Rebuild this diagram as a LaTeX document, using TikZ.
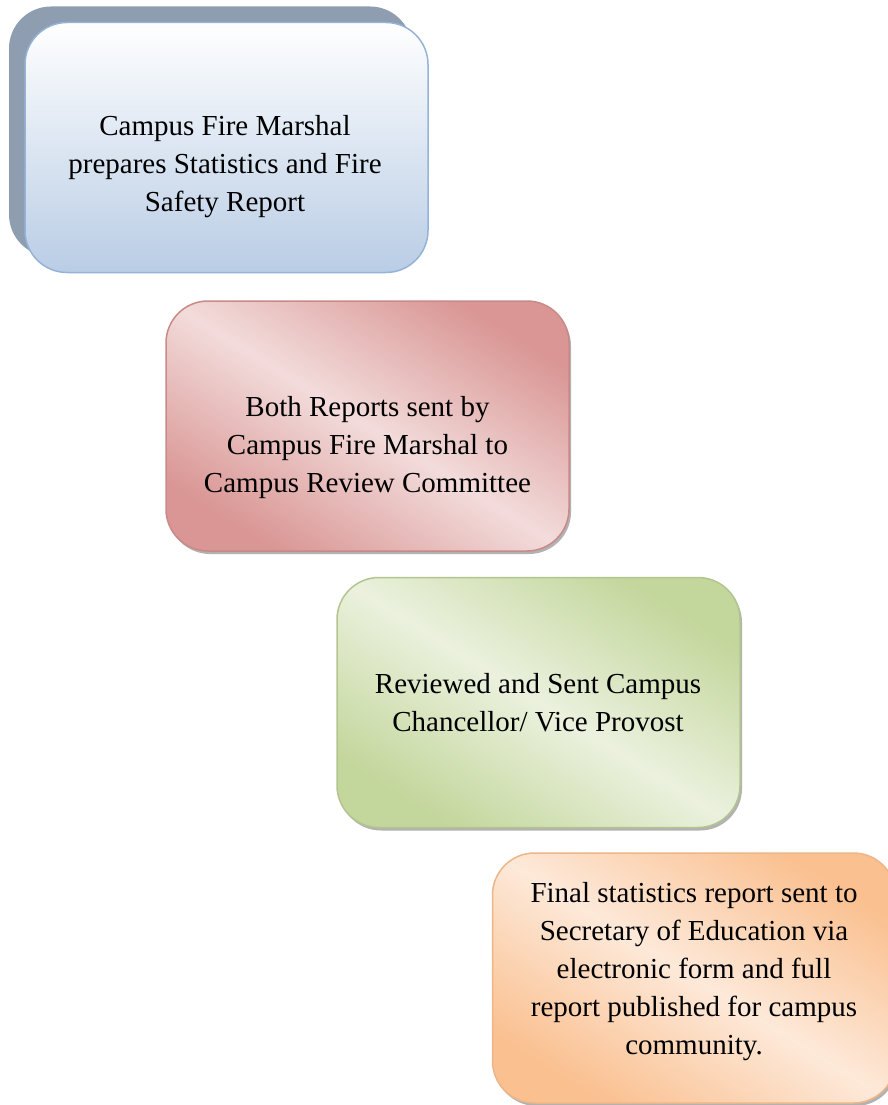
\documentclass[tikz,border=0pt]{standalone}
\usepackage{fontspec}
\setmainfont{Liberation Serif}
\usetikzlibrary{positioning,shadows}

\definecolor{blueedge}{HTML}{95B3D7}
\definecolor{bluelow}{HTML}{B9CDE5}
\definecolor{blueback}{HTML}{8E9DAF}
\definecolor{rededge}{HTML}{D99694}
\definecolor{redmid}{HTML}{F2DCDB}
\definecolor{greenedge}{HTML}{C3D69B}
\definecolor{greenmid}{HTML}{EBF1DE}
\definecolor{orangeedge}{HTML}{FAC090}
\definecolor{orangemid}{HTML}{FDE9D9}

\begin{document}
\begin{tikzpicture}[x=1pt,y=-1pt,
    stage/.style={rectangle,rounded corners=42pt,minimum width=403pt,minimum height=250pt,line width=1.5pt},
    lowshadow/.style={drop shadow={shadow xshift=2pt,shadow yshift=-3pt,fill=black,opacity=0.3}},
    stageblue/.style={stage,draw=blueedge,top color=white,bottom color=bluelow,
      drop shadow={shadow xshift=-16pt,shadow yshift=16pt,fill=blueback,opacity=1}},
    stagered/.style={stage,lowshadow,draw=rededge!92!black,top color=rededge,bottom color=rededge,
      middle color=redmid,shading angle=-32},
    stagegreen/.style={stage,lowshadow,draw=greenedge!92!black,top color=greenedge,bottom color=greenedge,
      middle color=greenmid,shading angle=-32},
    stageorange/.style={stage,lowshadow,draw=orangeedge!95!black,top color=orangeedge,bottom color=orangeedge,
      middle color=orangemid,shading angle=-32},
    stagetext/.style={align=center,inner sep=0pt,font=\fontsize{29}{38}\selectfont}]
   \useasboundingbox (0,0) rectangle (888,1105);
   % the four steps, stepping down to the right
   \node[stageblue] (b1) at (226.5,147.5) {};
   \node[stagered] (b2) at (367.5,426) {};
   \node[stagegreen] (b3) at (538.5,702.5) {};
   \node[stageorange] (b4) at (694,978) {};
   \node[stagetext] (t1) at (225,167) {Campus Fire Marshal\\prepares Statistics and Fire\\Safety Report};
   \node[stagetext] (t2) at (367.5,448) {Both Reports sent by\\Campus Fire Marshal to\\Campus Review Committee};
   \node[stagetext] (t3) at (538,703) {Reviewed and Sent Campus\\Chancellor/ Vice Provost};
   \node[stagetext] (t4) at (694,972) {Final statistics report sent to\\Secretary of Education via\\electronic form and full\\report published for campus\\community.};
\end{tikzpicture}
\end{document}
